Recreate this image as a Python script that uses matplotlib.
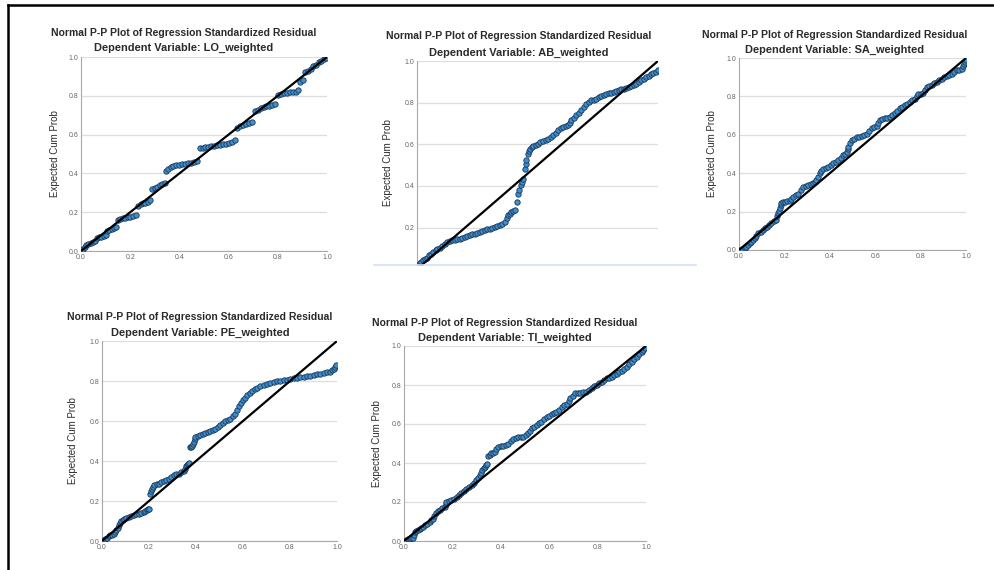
import matplotlib.pyplot as plt
from matplotlib.lines import Line2D

lo_points = [
    (0.000, 0.005), (0.008, 0.012), (0.015, 0.020), (0.022, 0.030), (0.030, 0.036), (0.040, 0.040),
    (0.050, 0.044), (0.058, 0.050), (0.064, 0.065), (0.072, 0.070), (0.082, 0.073), (0.092, 0.077),
    (0.100, 0.082), (0.104, 0.105), (0.114, 0.110), (0.124, 0.114), (0.134, 0.118), (0.142, 0.124),
    (0.150, 0.158), (0.160, 0.165), (0.170, 0.170), (0.180, 0.172), (0.190, 0.175), (0.200, 0.177),
    (0.212, 0.180), (0.222, 0.185), (0.232, 0.232), (0.242, 0.240), (0.252, 0.245), (0.262, 0.250),
    (0.272, 0.255), (0.282, 0.265), (0.290, 0.318), (0.300, 0.325), (0.310, 0.330), (0.320, 0.338),
    (0.330, 0.345), (0.340, 0.352), (0.346, 0.412), (0.354, 0.425), (0.364, 0.432), (0.376, 0.438),
    (0.388, 0.442), (0.400, 0.445), (0.412, 0.448), (0.424, 0.450), (0.436, 0.452), (0.448, 0.455),
    (0.460, 0.458), (0.472, 0.465), (0.482, 0.530), (0.494, 0.533), (0.506, 0.536), (0.518, 0.538),
    (0.530, 0.540), (0.542, 0.543), (0.554, 0.546), (0.566, 0.548), (0.578, 0.550), (0.590, 0.553),
    (0.602, 0.556), (0.614, 0.562), (0.624, 0.572), (0.634, 0.636), (0.646, 0.645), (0.658, 0.650),
    (0.670, 0.656), (0.682, 0.660), (0.694, 0.665), (0.706, 0.720), (0.718, 0.727), (0.730, 0.735),
    (0.742, 0.740), (0.754, 0.745), (0.766, 0.750), (0.778, 0.755), (0.790, 0.760), (0.800, 0.805),
    (0.812, 0.810), (0.824, 0.813), (0.836, 0.815), (0.848, 0.818), (0.860, 0.820), (0.872, 0.822),
    (0.884, 0.830), (0.892, 0.872), (0.902, 0.882), (0.912, 0.922), (0.922, 0.930), (0.934, 0.940),
    (0.944, 0.955), (0.956, 0.960), (0.966, 0.972), (0.976, 0.980), (0.986, 0.988), (0.996, 0.995),
]

ab_points = [
    (0.000, 0.016), (0.005, 0.022), (0.011, 0.030), (0.018, 0.036), (0.025, 0.043), (0.033, 0.050),
    (0.041, 0.056), (0.050, 0.066), (0.059, 0.075), (0.068, 0.083), (0.077, 0.091), (0.085, 0.097),
    (0.094, 0.102), (0.104, 0.112), (0.115, 0.123), (0.125, 0.129), (0.136, 0.134), (0.146, 0.138),
    (0.156, 0.142), (0.166, 0.145), (0.177, 0.147), (0.188, 0.151), (0.198, 0.155), (0.208, 0.159),
    (0.218, 0.163), (0.228, 0.167), (0.239, 0.171), (0.250, 0.175), (0.260, 0.179), (0.270, 0.183),
    (0.281, 0.187), (0.291, 0.191), (0.302, 0.195), (0.312, 0.199), (0.322, 0.203), (0.333, 0.207),
    (0.343, 0.211), (0.354, 0.218), (0.364, 0.227), (0.372, 0.245), (0.378, 0.259), (0.385, 0.267),
    (0.391, 0.275), (0.400, 0.279), (0.408, 0.283), (0.416, 0.323), (0.420, 0.360), (0.423, 0.379),
    (0.430, 0.403), (0.435, 0.420), (0.440, 0.435), (0.447, 0.483), (0.451, 0.505), (0.454, 0.523),
    (0.461, 0.555), (0.466, 0.568), (0.470, 0.579), (0.476, 0.585), (0.481, 0.590), (0.492, 0.597),
    (0.502, 0.603), (0.512, 0.610), (0.523, 0.616), (0.534, 0.622), (0.544, 0.627), (0.554, 0.635),
    (0.564, 0.643), (0.575, 0.655), (0.585, 0.667), (0.596, 0.676), (0.606, 0.683), (0.617, 0.687),
    (0.627, 0.691), (0.634, 0.703), (0.640, 0.715), (0.650, 0.727), (0.661, 0.739), (0.672, 0.751),
    (0.682, 0.763), (0.693, 0.779), (0.703, 0.795), (0.713, 0.803), (0.723, 0.811), (0.734, 0.815),
    (0.744, 0.819), (0.755, 0.825), (0.765, 0.830), (0.776, 0.835), (0.786, 0.840), (0.796, 0.844),
    (0.806, 0.848), (0.817, 0.852), (0.827, 0.856), (0.838, 0.860), (0.848, 0.864), (0.859, 0.867),
    (0.869, 0.870), (0.880, 0.874), (0.890, 0.878), (0.900, 0.884), (0.910, 0.891), (0.921, 0.899),
    (0.931, 0.907), (0.942, 0.915), (0.952, 0.923), (0.962, 0.930), (0.972, 0.936), (0.981, 0.941),
    (0.990, 0.947), (1.000, 0.958),
]

sa_points = [
    (0.006, 0.000), (0.015, 0.004), (0.025, 0.009), (0.032, 0.018), (0.040, 0.026), (0.047, 0.035),
    (0.054, 0.043), (0.062, 0.052), (0.069, 0.061), (0.076, 0.074), (0.084, 0.087), (0.095, 0.096),
    (0.106, 0.104), (0.115, 0.112), (0.124, 0.121), (0.133, 0.131), (0.143, 0.142), (0.154, 0.149),
    (0.165, 0.156), (0.169, 0.175), (0.172, 0.191), (0.177, 0.204), (0.182, 0.217), (0.185, 0.232),
    (0.187, 0.246), (0.194, 0.249), (0.201, 0.251), (0.212, 0.253), (0.224, 0.256), (0.231, 0.266),
    (0.238, 0.277), (0.249, 0.284), (0.260, 0.291), (0.271, 0.310), (0.282, 0.329), (0.293, 0.334),
    (0.304, 0.338), (0.315, 0.342), (0.326, 0.347), (0.334, 0.355), (0.341, 0.364), (0.349, 0.382),
    (0.356, 0.399), (0.363, 0.410), (0.371, 0.421), (0.382, 0.427), (0.393, 0.433), (0.404, 0.442),
    (0.415, 0.451), (0.426, 0.459), (0.437, 0.468), (0.448, 0.481), (0.459, 0.494), (0.466, 0.502),
    (0.474, 0.511), (0.478, 0.524), (0.481, 0.537), (0.488, 0.555), (0.496, 0.572), (0.507, 0.579),
    (0.518, 0.586), (0.529, 0.589), (0.540, 0.593), (0.551, 0.598), (0.562, 0.603), (0.573, 0.618),
    (0.584, 0.633), (0.595, 0.639), (0.606, 0.645), (0.613, 0.660), (0.621, 0.676), (0.632, 0.681),
    (0.643, 0.685), (0.654, 0.689), (0.665, 0.693), (0.676, 0.702), (0.687, 0.711), (0.698, 0.724),
    (0.709, 0.737), (0.720, 0.746), (0.731, 0.754), (0.742, 0.762), (0.753, 0.771), (0.764, 0.780),
    (0.775, 0.789), (0.783, 0.800), (0.790, 0.811), (0.800, 0.815), (0.809, 0.818), (0.818, 0.834),
    (0.826, 0.849), (0.838, 0.855), (0.849, 0.861), (0.860, 0.868), (0.871, 0.875), (0.882, 0.884),
    (0.893, 0.893), (0.904, 0.899), (0.915, 0.905), (0.926, 0.912), (0.937, 0.919), (0.948, 0.928),
    (0.959, 0.936), (0.970, 0.940), (0.981, 0.945), (0.986, 0.958), (0.991, 0.971), (0.995, 0.980),
    (0.999, 0.988),
]

pe_points = [
    (0.007, 0.003), (0.014, 0.010), (0.021, 0.017), (0.028, 0.023), (0.035, 0.028), (0.043, 0.032),
    (0.050, 0.037), (0.056, 0.045), (0.061, 0.053), (0.066, 0.066), (0.071, 0.078), (0.076, 0.089),
    (0.081, 0.100), (0.088, 0.106), (0.095, 0.112), (0.104, 0.116), (0.113, 0.120), (0.124, 0.124),
    (0.135, 0.128), (0.146, 0.133), (0.156, 0.137), (0.167, 0.141), (0.177, 0.145), (0.184, 0.149),
    (0.191, 0.153), (0.196, 0.158), (0.201, 0.162), (0.203, 0.233), (0.208, 0.248), (0.213, 0.262),
    (0.218, 0.272), (0.223, 0.282), (0.232, 0.285), (0.241, 0.287), (0.252, 0.293), (0.262, 0.298),
    (0.273, 0.305), (0.284, 0.312), (0.295, 0.320), (0.305, 0.328), (0.316, 0.333), (0.326, 0.337),
    (0.337, 0.343), (0.348, 0.348), (0.355, 0.362), (0.358, 0.375), (0.362, 0.382), (0.366, 0.387),
    (0.369, 0.390), (0.373, 0.470), (0.378, 0.471), (0.383, 0.473), (0.387, 0.484), (0.390, 0.495),
    (0.394, 0.508), (0.397, 0.520), (0.407, 0.526), (0.418, 0.532), (0.429, 0.536), (0.440, 0.540),
    (0.450, 0.544), (0.461, 0.548), (0.472, 0.555), (0.482, 0.562), (0.493, 0.570), (0.504, 0.578),
    (0.514, 0.589), (0.525, 0.600), (0.536, 0.606), (0.546, 0.612), (0.556, 0.625), (0.565, 0.637),
    (0.574, 0.655), (0.582, 0.673), (0.591, 0.688), (0.600, 0.703), (0.608, 0.716), (0.617, 0.728),
    (0.628, 0.739), (0.638, 0.750), (0.649, 0.759), (0.660, 0.767), (0.674, 0.773), (0.688, 0.778),
    (0.702, 0.784), (0.716, 0.790), (0.730, 0.794), (0.745, 0.798), (0.759, 0.801), (0.773, 0.803),
    (0.787, 0.807), (0.801, 0.810), (0.815, 0.813), (0.830, 0.815), (0.844, 0.818), (0.858, 0.820),
    (0.872, 0.824), (0.887, 0.827), (0.901, 0.830), (0.915, 0.833), (0.929, 0.837), (0.943, 0.840),
    (0.958, 0.843), (0.972, 0.845), (0.980, 0.854), (0.986, 0.862), (0.992, 0.870), (0.997, 0.878),
]

ti_points = [
    (0.010, 0.003), (0.017, 0.008), (0.023, 0.012), (0.030, 0.015), (0.037, 0.017), (0.041, 0.032),
    (0.044, 0.046), (0.051, 0.052), (0.058, 0.058), (0.065, 0.063), (0.072, 0.068), (0.079, 0.074),
    (0.086, 0.080), (0.096, 0.089), (0.106, 0.098), (0.113, 0.106), (0.120, 0.115), (0.126, 0.130),
    (0.131, 0.144), (0.140, 0.152), (0.148, 0.161), (0.158, 0.168), (0.168, 0.175), (0.172, 0.188),
    (0.175, 0.200), (0.186, 0.205), (0.196, 0.209), (0.206, 0.217), (0.217, 0.226), (0.227, 0.236),
    (0.237, 0.247), (0.248, 0.258), (0.258, 0.269), (0.268, 0.277), (0.279, 0.286), (0.289, 0.299),
    (0.299, 0.312), (0.306, 0.325), (0.313, 0.337), (0.318, 0.350), (0.323, 0.363), (0.329, 0.372),
    (0.334, 0.380), (0.339, 0.389), (0.343, 0.397), (0.348, 0.435), (0.355, 0.442), (0.361, 0.449),
    (0.368, 0.453), (0.375, 0.457), (0.382, 0.470), (0.389, 0.483), (0.400, 0.485), (0.410, 0.486),
    (0.420, 0.493), (0.430, 0.500), (0.441, 0.511), (0.451, 0.521), (0.462, 0.526), (0.472, 0.531),
    (0.482, 0.533), (0.492, 0.534), (0.503, 0.545), (0.513, 0.555), (0.520, 0.566), (0.527, 0.577),
    (0.538, 0.586), (0.548, 0.594), (0.558, 0.603), (0.568, 0.611), (0.579, 0.624), (0.589, 0.637),
    (0.600, 0.643), (0.610, 0.649), (0.620, 0.656), (0.630, 0.663), (0.641, 0.674), (0.651, 0.685),
    (0.662, 0.695), (0.672, 0.705), (0.680, 0.718), (0.688, 0.731), (0.697, 0.744), (0.706, 0.757),
    (0.717, 0.759), (0.727, 0.760), (0.741, 0.763), (0.754, 0.765), (0.765, 0.776), (0.775, 0.786),
    (0.786, 0.793), (0.796, 0.800), (0.807, 0.809), (0.817, 0.817), (0.827, 0.826), (0.837, 0.834),
    (0.848, 0.838), (0.858, 0.842), (0.869, 0.849), (0.879, 0.856), (0.889, 0.865), (0.899, 0.873),
    (0.910, 0.884), (0.920, 0.894), (0.931, 0.907), (0.941, 0.920), (0.951, 0.931), (0.961, 0.942),
    (0.972, 0.957), (0.982, 0.971), (0.989, 0.980), (0.996, 0.988),
]

variables = ["LO_weighted", "AB_weighted", "SA_weighted", "PE_weighted", "TI_weighted"]
points_all = [lo_points, ab_points, sa_points, pe_points, ti_points]

# ── Layout (pixel boxes of the reference, 995x570) ──
W, H = 995, 570
# axes: left, right, top, bottom in pixels
boxes = [(81, 327, 57, 251), (417, 658, 61, 265), (739, 966, 58, 250),
         (102, 337, 341, 541), (404, 646, 346, 541)]
# title centre x, title line 1 y, line 2 y, y-label x
titles = [(184, 33, 48, 55), (519, 36, 53, 388), (835, 35, 50, 712),
          (200, 317, 333, 73), (505, 323, 338, 377)]

DOT_C = "#3d8fd4"
EDGE_C = "#1b3550"
TEXT_C = "#2a2a2a"
TICK_C = "#666666"
GRID_C = "#dedede"

plt.rcParams['font.family'] = ['Liberation Sans', 'DejaVu Sans']

fig = plt.figure(figsize=(W / 100, H / 100), dpi=100)
fig.patch.set_facecolor("white")

for i, (var, pts) in enumerate(zip(variables, points_all)):
    xo = [p[0] for p in pts]
    ye = [p[1] for p in pts]
    l, r, t, b = boxes[i]
    ax = fig.add_axes([l / W, 1 - b / H, (r - l) / W, (b - t) / H])
    ax.scatter(xo, ye, s=15, color=DOT_C, edgecolor=EDGE_C, linewidth=0.6, zorder=3)
    ax.plot([0, 1], [0, 1], color="black", linewidth=1.6, zorder=4)
    ax.set_xlim(0, 1)
    ax.set_ylim(0.02 if var == "AB_weighted" else 0, 1)
    ax.set_yticks([0.2, 0.4, 0.6, 0.8, 1.0] if var == "AB_weighted"
                  else [0, 0.2, 0.4, 0.6, 0.8, 1.0])
    ax.set_xticks([0, 0.2, 0.4, 0.6, 0.8, 1.0])
    ax.grid(axis="y", color=GRID_C, linewidth=0.9, zorder=0)
    ax.set_axisbelow(True)
    ax.tick_params(length=0, labelsize=5, colors=TICK_C, pad=2)
    ax.xaxis.set_major_formatter(plt.FormatStrFormatter("%.1f"))
    ax.yaxis.set_major_formatter(plt.FormatStrFormatter("%.1f"))
    for s in ("top", "right"):
        ax.spines[s].set_visible(False)
    ax.spines["left"].set_color("#a8a8a8")
    ax.spines["bottom"].set_color("#a8a8a8")
    if var == "AB_weighted":
        ax.spines["bottom"].set_visible(False)
        ax.tick_params(axis="x", labelbottom=False)

    cx, t1, t2, yl = titles[i]
    fig.text(cx / W, 1 - t1 / H, "Normal P-P Plot of Regression Standardized Residual",
             ha="center", va="center", fontsize=7.5, fontweight="bold", color=TEXT_C)
    fig.text(cx / W, 1 - t2 / H, f"Dependent Variable: {var}",
             ha="center", va="center", fontsize=7.9, fontweight="bold", color=TEXT_C)
    fig.text(yl / W, 1 - (t + b) / 2 / H, "Expected Cum Prob", rotation=90,
             ha="center", va="center", fontsize=7, color=TEXT_C)

# light blue cut line under the AB panel
fig.add_artist(Line2D([374 / W, 696 / W], [1 - 265 / H, 1 - 265 / H],
                      color="#d3e2f6", linewidth=1.2))
# black frame on top and left
fig.add_artist(Line2D([8 / W, 1], [1 - 4.5 / H, 1 - 4.5 / H], color="black", linewidth=1.8))
fig.add_artist(Line2D([8 / W, 8 / W], [0, 1 - 4.5 / H], color="black", linewidth=1.8))

plt.savefig("out.png", dpi=100, facecolor=fig.get_facecolor())
